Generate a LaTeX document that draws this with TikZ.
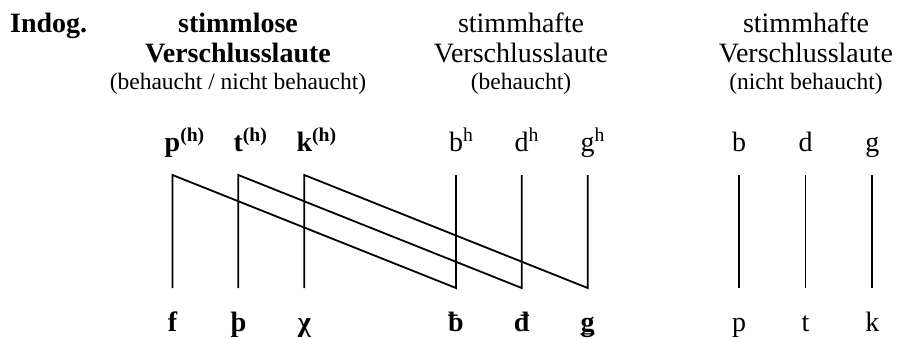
\documentclass[tikz,border=0pt]{standalone}
\usepackage{fontspec}
\setmainfont{Liberation Serif}
\begin{document}
\begin{tikzpicture}[x=1pt,y=-1pt,
  hd/.style={anchor=base,inner sep=0pt,font=\fontsize{28}{33}\selectfont},
  hdb/.style={hd,font=\fontsize{28}{33}\selectfont\bfseries},
  sm/.style={anchor=base,inner sep=0pt,font=\fontsize{23.5}{28}\selectfont},
  let/.style={anchor=base,inner sep=0pt,font=\fontsize{28}{33}\selectfont},
  letb/.style={let,font=\fontsize{28}{33}\selectfont\bfseries},
  ln/.style={line width=1.8pt,line join=miter}]
\useasboundingbox (0,0) rectangle (900,338);
% headers
\node[hdb,anchor=base west] (indog) at (10,32) {Indog.};
\node[hdb] (h1a) at (238,32) {stimmlose};
\node[hdb] (h1b) at (238,62) {Verschlusslaute};
\node[sm] (h1c) at (238,89) {(behaucht / nicht behaucht)};
\node[hd] (h2a) at (521,32) {stimmhafte};
\node[hd] (h2b) at (521,62) {Verschlusslaute};
\node[sm] (h2c) at (521,89) {(behaucht)};
\node[hd] (h3a) at (806,32) {stimmhafte};
\node[hd] (h3b) at (806,62) {Verschlusslaute};
\node[sm] (h3c) at (806,89) {(nicht behaucht)};
% top letters
\node[letb] (p) at (172.5,151) {p\rlap{\textsuperscript{(h)}}};
\node[letb] (t) at (238.3,151) {t\rlap{\textsuperscript{(h)}}};
\node[letb] (k) at (304.3,151) {k\rlap{\textsuperscript{(h)}}};
\node[let] (bh) at (456,151) {b\rlap{\textsuperscript{h}}};
\node[let] (dh) at (521.7,151) {d\rlap{\textsuperscript{h}}};
\node[let] (gh) at (587.7,151) {g\rlap{\textsuperscript{h}}};
\node[let] (b) at (739,151) {b};
\node[let] (d) at (805.5,151) {d};
\node[let] (g) at (872.3,151) {g};
% bottom letters
\node[letb] (f) at (172.5,331) {f};
\node[letb] (th) at (238.3,331) {þ};
\node[letb] (ch) at (304.3,331) {χ};
\node[letb] (bb) at (456,331) {ƀ};
\node[letb] (dd) at (521.7,331) {đ};
\node[letb] (gg) at (587.7,331) {ǥ};
\node[let] (pp) at (739,331) {p};
\node[let] (tt) at (805.5,331) {t};
\node[let] (kk) at (872.3,331) {k};
% line ends
\foreach \n/\x in {pT/172.5,tT/238.3,kT/304.3,bhT/456,dhT/521.7,ghT/587.7,bT/739,dT/805.5,gT/872.3}
  \coordinate (\n) at (\x,175);
\foreach \n/\x in {pB/172.5,tB/238.3,kB/304.3,bhB/456,dhB/521.7,ghB/587.7,bB/739,dB/805.5,gB/872.3}
  \coordinate (\n) at (\x,288);
\draw[ln] (pB) -- (pT) -- (bhB) -- (bhT);
\draw[ln] (tB) -- (tT) -- (dhB) -- (dhT);
\draw[ln] (kB) -- (kT) -- (ghB) -- (ghT);
\draw[ln] (bT) -- (bB);
\draw[ln] (dT) -- (dB);
\draw[ln] (gT) -- (gB);
\end{tikzpicture}
\end{document}
